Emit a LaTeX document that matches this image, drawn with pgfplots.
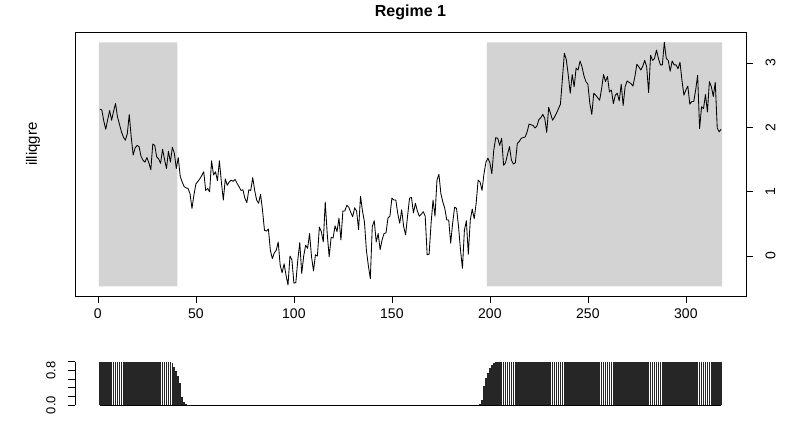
\documentclass[border=0pt]{standalone}
\usepackage{pgfplots}
\pgfplotsset{compat=1.18}
\usepackage{pgfplotstable}
\usepackage{fontspec}
\setmainfont{Liberation Sans}
\definecolor{shade}{HTML}{D3D3D3}

% illiqgre series
\pgfplotstableread{
t y
1 2.28
2 2.27
3 2.10
4 1.97
5 2.12
6 2.26
7 2.11
8 2.25
9 2.37
10 2.16
11 2.05
12 1.93
13 1.85
14 1.80
15 1.90
16 2.20
17 1.85
18 1.57
19 1.68
20 1.72
21 1.70
22 1.55
23 1.49
24 1.46
25 1.53
26 1.45
27 1.34
28 1.74
29 1.72
30 1.54
31 1.51
32 1.44
33 1.66
34 1.50
35 1.36
36 1.63
37 1.46
38 1.69
39 1.60
40 1.36
41 1.53
42 1.24
43 1.15
44 1.08
45 1.06
46 1.05
47 0.97
48 0.74
49 0.95
50 1.12
51 1.16
52 1.20
53 1.25
54 1.31
55 1.02
56 1.05
57 1.00
58 1.48
59 1.26
60 1.31
61 1.17
62 1.48
63 1.15
64 0.87
65 1.20
66 1.10
67 1.15
68 1.18
69 1.16
70 1.19
71 1.13
72 1.08
73 1.02
74 1.03
75 0.90
76 0.83
77 1.03
78 1.02
79 1.22
80 1.02
81 0.87
82 0.82
83 0.96
84 0.71
85 0.40
86 0.39
87 0.42
88 0.09
89 -0.04
90 0.05
91 0.09
92 0.22
93 -0.14
94 -0.26
95 -0.12
96 -0.30
97 -0.45
98 0.00
99 -0.06
100 -0.42
101 -0.41
102 -0.06
103 0.21
104 -0.27
105 0.00
106 0.17
107 0.12
108 0.35
109 -0.01
110 -0.23
111 0.02
112 0.00
113 0.45
114 0.38
115 0.22
116 0.84
117 0.35
118 -0.01
119 0.29
120 0.28
121 0.47
122 0.38
123 0.59
124 0.25
125 0.70
126 0.70
127 0.79
128 0.76
129 0.68
130 0.61
131 0.75
132 0.70
133 0.41
134 0.93
135 0.70
136 0.53
137 0.09
138 -0.15
139 -0.35
140 0.46
141 0.55
142 0.22
143 0.35
144 0.10
145 0.25
146 0.35
147 0.36
148 0.59
149 0.62
150 0.90
151 0.87
152 0.87
153 0.66
154 0.51
155 0.72
156 0.46
157 0.33
158 0.62
159 0.90
160 0.91
161 0.67
162 0.82
163 0.70
164 0.62
165 0.65
166 0.69
167 0.62
168 0.02
169 0.03
170 0.51
171 0.87
172 0.62
173 1.18
174 1.27
175 0.97
176 0.84
177 0.74
178 0.56
179 0.56
180 0.20
181 0.51
182 0.76
183 0.74
184 0.46
185 0.10
186 -0.19
187 0.40
188 0.55
189 0.03
190 0.56
191 0.73
192 0.58
193 0.82
194 1.18
195 1.15
196 1.02
197 1.28
198 1.46
199 1.52
200 1.45
201 1.28
202 1.65
203 1.84
204 1.83
205 1.72
206 1.83
207 1.41
208 1.45
209 1.58
210 1.70
211 1.49
212 1.43
213 1.45
214 1.75
215 1.78
216 1.83
217 1.84
218 1.85
219 1.93
220 2.05
221 2.04
222 2.03
223 1.99
224 2.02
225 2.12
226 2.15
227 2.20
228 2.14
229 1.92
230 2.31
231 2.21
232 2.11
233 2.16
234 2.22
235 2.29
236 2.36
237 2.75
238 3.15
239 3.05
240 2.81
241 2.53
242 2.82
243 2.63
244 2.92
245 2.89
246 3.03
247 2.94
248 2.80
249 2.71
250 2.67
251 2.37
252 2.20
253 2.53
254 2.50
255 2.46
256 2.42
257 2.60
258 2.82
259 2.71
260 2.79
261 2.55
262 2.58
263 2.37
264 2.50
265 2.53
266 2.41
267 2.67
268 2.34
269 2.63
270 2.72
271 2.70
272 2.68
273 2.64
274 2.79
275 2.98
276 2.94
277 2.89
278 2.95
279 3.04
280 2.94
281 2.54
282 3.12
283 3.04
284 3.07
285 3.20
286 3.07
287 2.97
288 2.97
289 3.32
290 3.07
291 3.04
292 2.87
293 3.03
294 2.97
295 2.97
296 2.91
297 3.01
298 2.73
299 2.50
300 2.58
301 2.64
302 2.36
303 2.40
304 2.40
305 2.58
306 2.81
307 1.98
308 2.32
309 2.29
310 2.51
311 2.24
312 2.71
313 2.63
314 2.48
315 2.70
316 1.99
317 1.93
318 1.97
}\series

% smoothed probability of regime 1 (zero between 47 and 194)
\pgfplotstableread{
t p
1 0.99
2 0.99
3 0.99
4 0.99
5 0.99
6 0.99
7 0.99
8 0.99
9 0.99
10 0.99
11 0.99
12 0.99
13 0.99
14 0.99
15 0.99
16 0.99
17 0.99
18 0.99
19 0.99
20 0.99
21 0.99
22 0.99
23 0.99
24 0.99
25 0.99
26 0.99
27 0.99
28 0.99
29 0.99
30 0.99
31 0.99
32 0.99
33 0.99
34 0.99
35 0.99
36 0.99
37 0.99
38 0.97
39 0.88
40 0.78
41 0.66
42 0.50
43 0.19
44 0.07
45 0.02
46 0.01
195 0.02
196 0.12
197 0.45
198 0.62
199 0.75
200 0.85
201 0.93
202 0.98
203 0.99
204 0.99
205 0.99
206 0.99
207 0.99
208 0.99
209 0.99
210 0.99
211 0.99
212 0.99
213 0.99
214 0.99
215 0.99
216 0.99
217 0.99
218 0.99
219 0.99
220 0.99
221 0.99
222 0.99
223 0.99
224 0.99
225 0.99
226 0.99
227 0.99
228 0.99
229 0.99
230 0.99
231 0.99
232 0.99
233 0.99
234 0.99
235 0.99
236 0.99
237 0.99
238 0.99
239 0.99
240 0.99
241 0.99
242 0.99
243 0.99
244 0.99
245 0.99
246 0.99
247 0.99
248 0.99
249 0.99
250 0.99
251 0.99
252 0.99
253 0.99
254 0.99
255 0.99
256 0.99
257 0.99
258 0.99
259 0.99
260 0.99
261 0.99
262 0.99
263 0.99
264 0.99
265 0.99
266 0.99
267 0.99
268 0.99
269 0.99
270 0.99
271 0.99
272 0.99
273 0.99
274 0.99
275 0.99
276 0.99
277 0.99
278 0.99
279 0.99
280 0.99
281 0.99
282 0.99
283 0.99
284 0.99
285 0.99
286 0.99
287 0.99
288 0.99
289 0.99
290 0.99
291 0.99
292 0.99
293 0.99
294 0.99
295 0.99
296 0.99
297 0.99
298 0.99
299 0.99
300 0.99
301 0.99
302 0.99
303 0.99
304 0.99
305 0.99
306 0.99
307 0.99
308 0.99
309 0.99
310 0.99
311 0.99
312 0.99
313 0.99
314 0.99
315 0.99
316 0.99
317 0.99
318 0.99
}\probs

\begin{document}
\begin{tikzpicture}[x=1pt,y=1pt]
\path[use as bounding box] (0,0) rectangle (787,422);
\begin{axis}[
    at={(75pt,126pt)}, anchor=south west,
    scale only axis, width=671pt, height=263.3pt,
    xmin=-11.68, xmax=330.68,
    ymin=-0.62, ymax=3.47,
    xtick={0,50,...,300},
    ytick={0,1,2,3},
    xtick pos=left, ytick pos=right,
    tick align=outside,
    major tick length=7pt,
    tick style={black, line width=0.7pt},
    axis line style={line width=0.8pt},
    /pgf/number format/assume math mode=true,
    tick label style={font=\fontsize{14}{16}\selectfont},
    xticklabel style={anchor=north, yshift=-2pt},
    yticklabel style={rotate=90, anchor=north, yshift=-9pt},
    title={Regime 1},
    title style={font=\bfseries\fontsize{16}{19}\selectfont,
        at={(axis description cs:0.5,1)}, anchor=center, yshift=14pt},
    ylabel={illiqgre},
    ylabel style={font=\fontsize{15}{17}\selectfont,
        at={(axis description cs:-0.0626,0.577)}, anchor=center, rotate=0},
]
\addplot[fill=shade, draw=none] coordinates {(0.5,-0.47) (40.5,-0.47) (40.5,3.32) (0.5,3.32)} \closedcycle;
\addplot[fill=shade, draw=none] coordinates {(198.5,-0.47) (318.5,-0.47) (318.5,3.32) (198.5,3.32)} \closedcycle;
\addplot[black, line width=0.85pt, line join=round] table[x=t, y=y] {\series};
\end{axis}

\begin{axis}[
    at={(75pt,17pt)}, anchor=south west,
    scale only axis, width=671pt, height=43.3pt,
    xmin=-11.68, xmax=330.68,
    ymin=0, ymax=1,
    hide x axis,
    axis y line*=left,
    ytick={0,0.2,0.4,0.6,0.8,1},
    yticklabels={0.0,,,,0.8,},
    tick align=outside,
    major tick length=7pt,
    tick style={black, line width=0.7pt},
    axis line style={line width=0.8pt},
    tick label style={font=\fontsize{13}{15}\selectfont},
    yticklabel style={rotate=90, anchor=south, yshift=9pt},
    clip=false,
]
\addplot[black, line width=0.8pt] coordinates {(1,0) (318,0)};
\addplot[ycomb, black!85, line width=1.7pt] table[x=t, y=p] {\probs};
\end{axis}
\end{tikzpicture}
\end{document}
